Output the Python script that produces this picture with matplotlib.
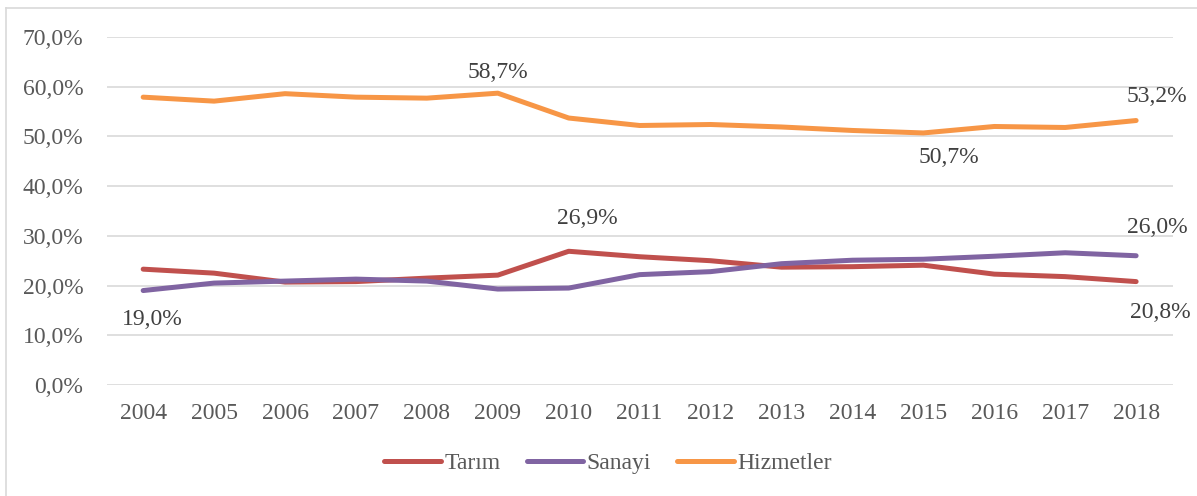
import matplotlib
matplotlib.use("Agg")
import matplotlib.pyplot as plt
from matplotlib.ticker import FuncFormatter, MultipleLocator
from matplotlib.lines import Line2D

years = [2004, 2005, 2006, 2007, 2008, 2009, 2010, 2011, 2012, 2013, 2014, 2015, 2016, 2017, 2018]
tarim = [23.3, 22.5, 20.7, 20.8, 21.5, 22.1, 26.9, 25.8, 25.0, 23.7, 23.8, 24.1, 22.3, 21.8, 20.8]
sanayi = [19.0, 20.5, 20.9, 21.3, 20.9, 19.3, 19.5, 22.2, 22.8, 24.4, 25.1, 25.3, 25.9, 26.6, 26.0]
hizmetler = [57.9, 57.1, 58.6, 57.9, 57.7, 58.7, 53.7, 52.2, 52.4, 51.9, 51.2, 50.7, 52.0, 51.8, 53.2]

series_names = ["Tarım", "Sanayi", "Hizmetler"]
colors = ["#C0504D", "#8064A2", "#F79646"]


def pct(v):
    return f"{v:.1f}%".replace(".", ",")


def main():
    plt.rcParams["font.family"] = ["Liberation Serif", "DejaVu Serif"]
    fs = 17

    fig = plt.figure(figsize=(11.97, 4.96), dpi=100)
    ax = fig.add_axes([107 / 1197, 1 - 385 / 496, (1173 - 107) / 1197, (385 - 37) / 496])

    for name, vals, c in zip(series_names, [tarim, sanayi, hizmetler], colors):
        ax.plot(years, vals, color=c, lw=3.6, solid_capstyle="round", label=name, zorder=3)

    ax.set_xlim(2003.49, 2018.52)
    ax.set_ylim(0, 70)
    ax.yaxis.set_major_locator(MultipleLocator(10))
    ax.yaxis.set_major_formatter(FuncFormatter(lambda v, p: pct(v)))
    ax.set_xticks(years)
    ax.grid(axis="y", color="#D9D9D9", lw=1.2)
    ax.set_axisbelow(True)
    for s in ax.spines.values():
        s.set_visible(False)
    ax.tick_params(axis="both", length=0, labelsize=fs, labelcolor="#595959")
    ax.tick_params(axis="y", pad=17)
    ax.tick_params(axis="x", pad=13)

    # data labels (offsets in pixels)
    labels = [
        (years[5], hizmetler[5], 0, 21),
        (years[14], hizmetler[14], 21, 24),
        (years[11], hizmetler[11], 26, -25),
        (years[6], tarim[6], 19, 33),
        (years[14], tarim[14], 24, -31),
        (years[0], sanayi[0], 9, -29),
        (years[14], sanayi[14], 21, 28),
    ]
    for x, y, dx, dy in labels:
        ax.annotate(pct(y), (x, y), xytext=(dx, dy), textcoords="offset pixels",
                    ha="center", va="center", fontsize=fs, color="#404040")

    handles = [Line2D([], [], color=c, lw=3.6, solid_capstyle="round") for c in colors]
    fig.legend(handles, series_names, loc="center", bbox_to_anchor=(0.508, 1 - 463 / 496),
               ncol=3, frameon=False, fontsize=fs, handlelength=2.4, handletextpad=0.15,
               columnspacing=1.1, labelcolor="#595959")

    # chart frame
    fig.add_artist(Line2D([6 / 1197, 6 / 1197], [0, 1 - 8 / 496], color="#D9D9D9", lw=1.2))
    fig.add_artist(Line2D([6 / 1197, 1], [1 - 8 / 496, 1 - 8 / 496], color="#D9D9D9", lw=1.2))

    fig.savefig("out.png", dpi=100)


if __name__ == "__main__":
    main()
